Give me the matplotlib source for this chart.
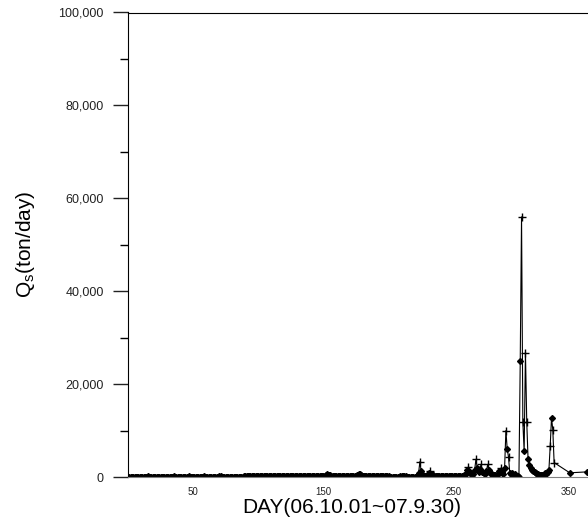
import matplotlib
matplotlib.use("Agg")
import matplotlib.pyplot as plt
import matplotlib.transforms as mtransforms
from matplotlib.ticker import FuncFormatter, MultipleLocator, FixedLocator
import numpy as np

plt.rcParams['font.family'] = ['Liberation Sans', 'DejaVu Sans']
plt.rcParams['mathtext.fontset'] = 'custom'
plt.rcParams['mathtext.rm'] = 'Liberation Sans'

# daily suspended sediment load (ton/day), days 1..327
qs_early = [
    60, 55, 50, 48, 45, 60, 80, 70, 55, 50, 45, 42, 40, 45, 120, 90, 60, 50, 45, 42,
    40, 38, 36, 40, 55, 70, 60, 48, 44, 40, 38, 36, 35, 90, 150, 100, 70, 55, 48, 44,
    40, 38, 36, 35, 34, 60, 130, 85, 60, 50, 45, 42, 40, 38, 36, 35, 50, 110, 70, 55,
    48, 44, 42, 40, 38, 37, 36, 35, 70, 160, 110, 75, 60, 52, 48, 45, 42, 40, 38, 37,
    36, 35, 34, 40, 80, 60, 50, 45, 120, 210, 260, 230, 200, 180, 170, 160, 150, 145, 140, 135,
    130, 140, 160, 200, 180, 160, 150, 140, 135, 130, 125, 140, 190, 170, 150, 140, 135, 130, 128, 125,
    122, 120, 118, 130, 170, 150, 140, 132, 128, 125, 122, 120, 118, 116, 115, 140, 180, 160, 145, 135,
    130, 126, 122, 120, 118, 116, 115, 114, 140, 190, 260, 420, 750, 520, 330, 260, 220, 200, 185, 175,
    165, 158, 150, 145, 140, 136, 132, 130, 128, 124, 122, 135, 150, 200, 280, 400, 560, 700, 480, 320,
    250, 210, 190, 175, 165, 158, 150, 145, 140, 136, 132, 128, 125, 122, 120, 118, 116, 114, 112, 110,
    105, 104, 103, 102, 101, 100, 99, 98, 120, 180, 140, 120, 110, 105, 100, 98, 96, 95, 94, 93,
]
qs_late = [
    95, 110, 900, 3300, 1200, 500, 300, 220, 200, 400, 900, 1300, 600, 350, 260, 220, 200, 190, 180, 170,
    165, 160, 158, 155, 152, 150, 148, 146, 144, 142, 140, 138, 136, 135, 134,
    150, 200, 350, 700, 1400, 2100, 1200, 700, 500, 600, 1500, 3800, 2000, 1000, 1800,
    2700, 1000, 900, 700, 1200, 2700, 1400, 800, 600, 500, 450, 420, 500, 700, 1200,
    1900, 1000, 700, 2000, 10000, 6000, 4300, 800, 600, 900, 500, 700, 300, 200, 100,
    25000, 56000, 11800, 5600, 26800, 11800, 3900, 2600, 2000, 1600, 1300, 1000, 800, 650, 550,
    500, 450, 400, 500, 800, 600, 1000, 1500, 6700, 12800, 10100, 3100,
]
days_tail = [339, 352, 362]
qs_tail = [900, 1100, 1000]

plus_days = [224, 232, 261, 267, 271, 276, 286, 290, 292, 302, 303, 305, 306, 324, 326, 327]

qs = np.array(qs_early + qs_late + qs_tail, dtype=float)
days = np.concatenate([np.arange(1, len(qs_early) + len(qs_late) + 1), days_tail])

is_plus = np.isin(days, plus_days)

fig = plt.figure(figsize=(5.88, 5.21), dpi=100)
ax = fig.add_axes([128 / 588, 1 - 477 / 521, 1 - 128 / 588, (477 - 12.5) / 521])

ax.plot(days, qs, color='black', linewidth=0.8)
ax.plot(days[~is_plus], qs[~is_plus], linestyle='none', marker='D', markersize=3,
        color='black')
ax.plot(days[is_plus], qs[is_plus], linestyle='none', marker='+', markersize=5.5,
        markeredgewidth=1.0, color='black')

ax.set_xlim(0, 353)
ax.set_ylim(0, 100000)

ax.spines['right'].set_visible(False)
ax.spines['bottom'].set_color('#808080')

ax.yaxis.set_major_locator(MultipleLocator(20000))
ax.yaxis.set_minor_locator(MultipleLocator(10000))
ax.yaxis.set_major_formatter(FuncFormatter(lambda v, p: f"{int(v):,}"))
ax.tick_params(axis='y', which='major', direction='out', length=11, width=1,
               labelsize=9, pad=6.5, colors='#222222')
ax.tick_params(axis='y', which='minor', direction='out', length=5.8, width=1)

ax.xaxis.set_major_locator(FixedLocator([50, 150, 250, 350]))
ax.tick_params(axis='x', which='major', length=0, labelsize=7, pad=7, colors='#222222')

fig.canvas.draw()
last = ax.get_xticklabels()[-1]
last.set_transform(last.get_transform() +
                   mtransforms.ScaledTranslation(-0.15, 0, fig.dpi_scale_trans))

ax.set_xlabel('DAY(06.10.01~07.9.30)', fontsize=15, labelpad=1)
ax.xaxis.label.set_x(0.487)
ax.set_ylabel(r'Q$_\mathregular{s}$(ton/day)', fontsize=15, labelpad=15)

fig.savefig('out.png', dpi=100)
